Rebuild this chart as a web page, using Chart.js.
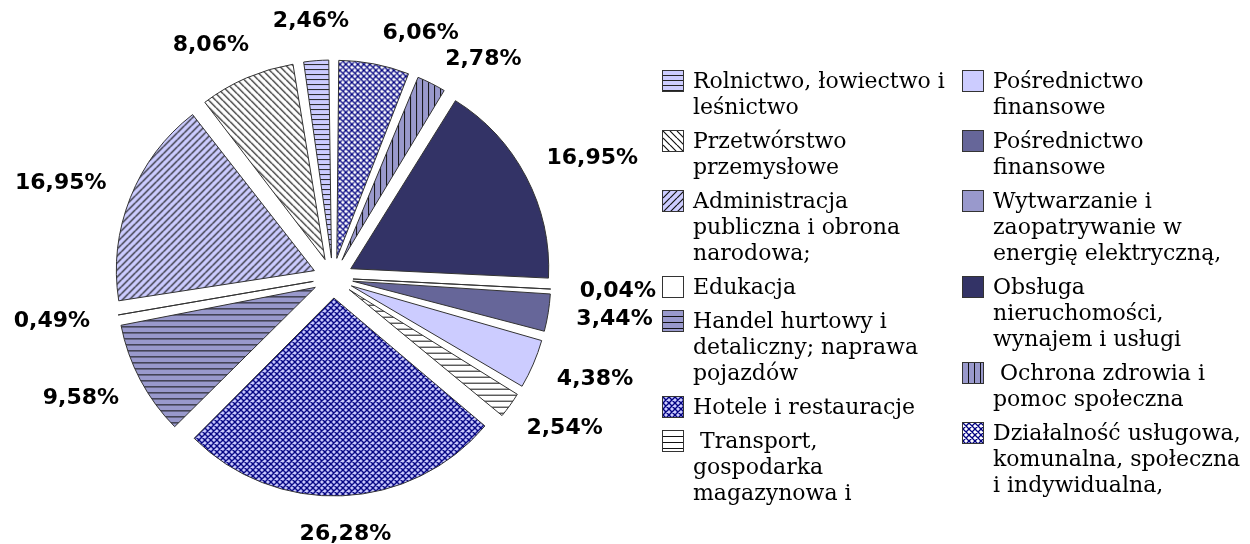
<!DOCTYPE html>
<html>
<head>
<meta charset="utf-8">
<script src="https://cdn.jsdelivr.net/npm/chart.js@4"></script>
<style>
  html, body { margin: 0; padding: 0; background: #fff; }
  #wrap { position: relative; width: 1250px; height: 544px; overflow: hidden; }
  #pie { position: absolute; left: 0; top: 0; }
  .col { position: absolute; top: 68px; font-family: 'DejaVu Serif', serif; font-size: 22px; line-height: 26px; color: #000; }
  .item { display: flex; align-items: flex-start; margin-bottom: 8px; }
  .item canvas { border: 1px solid #333; margin-top: 2px; margin-right: 9px; flex: none; }
  .item span { white-space: pre; }
</style>
</head>
<body>
<div id="wrap">
  <canvas id="pie" width="700" height="544"></canvas>
  <div class="col" id="col1" style="left:662px"></div>
  <div class="col" id="col2" style="left:962px"></div>
</div>
<script>
// data, in legend order (the pie runs counter-clockwise from 12 o'clock)
const categories = [
    'Rolnictwo, łowiectwo i\nleśnictwo',
    'Przetwórstwo\nprzemysłowe',
    'Administracja\npubliczna i obrona\nnarodowa;',
    'Edukacja',
    'Handel hurtowy i\ndetaliczny; naprawa\npojazdów',
    'Hotele i restauracje',
    ' Transport,\ngospodarka\nmagazynowa i',
    'Pośrednictwo\nfinansowe',
    'Pośrednictwo\nfinansowe',
    'Wytwarzanie i\nzaopatrywanie w\nenergię elektryczną,',
    'Obsługa\nnieruchomości,\nwynajem i usługi',
    ' Ochrona zdrowia i\npomoc społeczna',
    'Działalność usługowa,\nkomunalna, społeczna\ni indywidualna,'
];
const shares = [2.46, 8.06, 16.95, 0.49, 9.58, 26.28, 2.54, 4.38, 3.44, 0.04, 16.95, 2.78, 6.06];
const firstColumnCount = 7;

// fill styles: [background, hatch kind, spacing, line colour, line width]
const fills = [
    ['#CCCCFF', 'h', 5, '#222', 1],
    ['#FFFFFF', '\\', 7, '#111', 1.2],
    ['#CCCCFF', '/', 7, '#111', 1.2],
    ['#FFFFFF'],
    ['#9999CC', 'h', 6, '#111', 1],
    ['#CCCCFF', 'x', 6, '#000080', 1.4],
    ['#FFFFFF', 'h', 6, '#111', 1],
    ['#CCCCFF'],
    ['#666699'],
    ['#9999CC'],
    ['#333366'],
    ['#9999CC', 'v', 6, '#111', 1],
    ['#FFFFFF', 'x', 6, '#000080', 1.3]
];

const pieRadius = 198;
const explode = 80;     // chart.js moves a slice by offset / 4
const labelDist = 247;

function makeFill(f) {
    const [bg, kind, s, fg, lw] = f;
    if (!kind) return bg;
    const c = document.createElement('canvas');
    c.width = c.height = s;
    const g = c.getContext('2d');
    g.fillStyle = bg;
    g.fillRect(0, 0, s, s);
    g.strokeStyle = fg;
    g.lineWidth = lw;
    g.beginPath();
    if (kind === 'h') { g.moveTo(0, s - 0.5); g.lineTo(s, s - 0.5); }
    if (kind === 'v') { g.moveTo(s - 0.5, 0); g.lineTo(s - 0.5, s); }
    for (let k = -1; k <= 1; k++) {
        if (kind === '/' || kind === 'x') { g.moveTo(k * s, s); g.lineTo(k * s + s, 0); }
        if (kind === '\\' || kind === 'x') { g.moveTo(k * s, 0); g.lineTo(k * s + s, s); }
    }
    g.stroke();
    return g.createPattern(c, 'repeat');
}

const patterns = fills.map(makeFill);

// legend
categories.forEach((name, i) => {
    const item = document.createElement('div');
    item.className = 'item';
    const sw = document.createElement('canvas');
    sw.width = 20; sw.height = 20;
    const g = sw.getContext('2d');
    g.fillStyle = patterns[i];
    g.fillRect(0, 0, 20, 20);
    const txt = document.createElement('span');
    txt.textContent = name;
    item.appendChild(sw);
    item.appendChild(txt);
    document.getElementById(i < firstColumnCount ? 'col1' : 'col2').appendChild(item);
});

function fmt(v) {
    return v.toFixed(2).replace('.', ',') + '%';
}

// keep every slice the same radius (chart.js grows thin slices when offset is set)
const evenExplode = {
    id: 'evenExplode',
    afterDatasetUpdate(chart, args) {
        args.meta.data.forEach(arc => {
            const fix = 1 - Math.sin(Math.min(Math.PI, arc.circumference));
            arc.outerRadius = pieRadius - (explode / 4) * fix;
        });
    }
};

const outsideLabels = {
    id: 'outsideLabels',
    afterDatasetsDraw(chart) {
        const ctx = chart.ctx;
        const meta = chart.getDatasetMeta(0);
        const vals = chart.data.datasets[0].data;
        ctx.save();
        ctx.font = 'bold 22px "DejaVu Sans"';
        ctx.fillStyle = '#000';
        ctx.textAlign = 'center';
        ctx.textBaseline = 'middle';
        const TAU = Math.PI * 2;
        const list = meta.data.map((arc, i) => {
            const mid = (arc.startAngle + arc.endAngle) / 2;
            const fromTop = ((mid + Math.PI / 2) % TAU + TAU) % TAU;
            return { arc, mid, fromTop, near: Math.min(fromTop, TAU - fromTop), text: fmt(vals[i]) };
        }).sort((a, b) => a.near - b.near);
        const placed = [];
        list.forEach(o => {
            const w = ctx.measureText(o.text).width, h = 20;
            const dir = o.fromTop < Math.PI ? 1 : -1;
            let a = o.mid, box;
            for (let k = 0; k < 80; k++) {
                const ax = o.arc.x + Math.cos(a) * labelDist;
                const ay = o.arc.y + Math.sin(a) * labelDist;
                box = { cx: ax + Math.cos(a) * w / 2, cy: ay + Math.sin(a) * h / 2, w, h };
                const hit = placed.some(p => Math.abs(p.cx - box.cx) < (p.w + w) / 2 + 30 &&
                                             Math.abs(p.cy - box.cy) < (p.h + h) / 2 + 4);
                if (!hit) break;
                a += dir * Math.PI / 180;
            }
            placed.push(box);
            ctx.fillText(o.text, box.cx, box.cy);
        });
        ctx.restore();
    }
};

// chart.js draws clockwise, so feed the slices in reverse
const rev = arr => arr.slice().reverse();

new Chart(document.getElementById('pie'), {
    type: 'pie',
    data: {
        labels: rev(categories),
        datasets: [{
            data: rev(shares),
            backgroundColor: rev(patterns),
            borderColor: '#333',
            borderWidth: 1,
            offset: explode
        }]
    },
    options: {
        responsive: false,
        animation: false,
        events: [],
        radius: pieRadius,
        layout: { padding: { left: 0, right: 34, top: 12, bottom: 0 } },
        plugins: {
            legend: { display: false },
            tooltip: { enabled: false }
        }
    },
    plugins: [evenExplode, outsideLabels]
});
</script>
</body>
</html>
